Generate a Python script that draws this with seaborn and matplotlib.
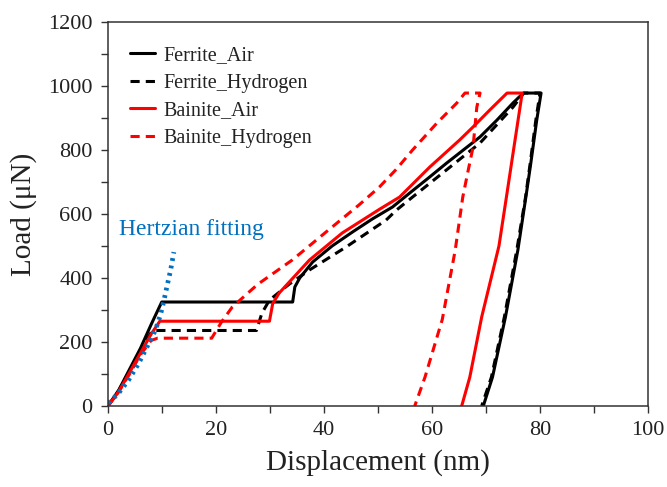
import matplotlib
matplotlib.use("Agg")
import matplotlib.pyplot as plt
import seaborn as sns
import pandas as pd
from matplotlib.ticker import MultipleLocator

# ---- data ----
ferrite_air_x = [0, 2, 4, 6, 8, 9.95, 34.2, 34.6, 35.5, 37.9, 41.5, 45.3, 49, 52.7, 55.9, 59.3, 62.7,
                 65.8, 68.9, 72, 75, 76.9, 80.2, 79.4, 78.3, 77.5, 75.9, 73.6, 71.2, 69.5]
ferrite_air_y = [0, 50, 115, 180, 255, 325, 325, 372, 400, 450, 500, 544, 585, 622, 666, 712, 759,
                 800, 841, 893, 947, 978, 978, 894, 759, 666, 487, 278, 90, 0]

ferrite_h_x = [0, 2, 4, 6, 8.2, 27.5, 28.5, 29.9, 33.5, 37.3, 44.1, 51.5, 53.4, 56.4, 62.7, 68.9, 75,
               77.0, 80.0, 79.2, 78.2, 77.3, 75.7, 73.4, 71.0, 69.2]
ferrite_h_y = [0, 48, 110, 172, 236, 236, 290, 331, 380, 425, 497, 581, 612, 653, 738, 822, 934,
               978, 978, 890, 760, 650, 487, 278, 90, 0]

bainite_air_x = [0, 2, 4, 6, 8, 9.6, 29.9, 30.5, 31.7, 37.3, 43.4, 50.3, 54, 59.6, 65.1, 67.6, 70.7,
                 73.9, 76.7, 76.0, 75.0, 73.9, 72.4, 69.2, 67.0, 65.5]
bainite_air_y = [0, 45, 105, 165, 225, 265, 265, 320, 353, 456, 541, 615, 653, 747, 831, 872, 925,
                 978, 978, 900, 789, 666, 500, 278, 90, 0]

bainite_h_x = [0, 2, 4, 6, 8, 9.2, 19.2, 21, 23.0, 27.7, 34.1, 40.4, 46.6, 50.3, 53.4, 56.4, 60.9,
               64.6, 66.1, 68.9, 68.3, 67.6, 66.6, 65.7, 64.3, 61.9, 58.7, 56.8]
bainite_h_y = [0, 45, 100, 160, 205, 212, 212, 262, 309, 380, 456, 544, 630, 685, 740, 800, 884,
               947, 978, 978, 934, 809, 728, 653, 487, 270, 90, 0]

hertz_x = [0.1, 1.95, 3.8, 5.7, 7.2, 8.8, 9.7, 10.3, 10.9, 11.6, 12.2]
hertz_y = [9, 40, 81, 134, 184, 238, 284, 325, 372, 425, 481]

series_names = ["Ferrite_Air", "Ferrite_Hydrogen", "Bainite_Air", "Bainite_Hydrogen"]

# ---- figure ----
sns.set_theme(style="white")
plt.rcParams["font.family"] = ["Liberation Serif", "DejaVu Serif"]

fig = plt.figure(figsize=(6.67, 4.87), dpi=100)
ax = fig.add_axes([0.1619, 0.1663, 0.9715 - 0.1619, 0.9548 - 0.1663])

data = {
    "Ferrite_Air": (ferrite_air_x, ferrite_air_y),
    "Ferrite_Hydrogen": (ferrite_h_x, ferrite_h_y),
    "Bainite_Air": (bainite_air_x, bainite_air_y),
    "Bainite_Hydrogen": (bainite_h_x, bainite_h_y),
}
styles = {
    "Ferrite_Air": dict(color="black", linestyle="-"),
    "Ferrite_Hydrogen": dict(color="black", linestyle=(0, (3, 2))),
    "Bainite_Air": dict(color="#ff0000", linestyle="-"),
    "Bainite_Hydrogen": dict(color="#ff0000", linestyle=(0, (3, 2))),
}

for name in series_names:
    xs, ys = data[name]
    df = pd.DataFrame({"x": xs, "y": ys})
    sns.lineplot(data=df, x="x", y="y", sort=False, estimator=None, ax=ax,
                 lw=2.2, label=name, **styles[name])

hz = pd.DataFrame({"x": hertz_x, "y": hertz_y})
sns.lineplot(data=hz, x="x", y="y", sort=False, estimator=None, ax=ax,
             color="#0070C0", lw=3.4, linestyle=(0, (0.6, 1.0)), label="_nolegend_")

ax.text(2.0, 534, "Hertzian fitting", color="#0070C0", fontsize=17, va="baseline", ha="left")

ax.set_xlim(0, 100)
ax.set_ylim(0, 1200)
ax.xaxis.set_major_locator(MultipleLocator(20))
ax.xaxis.set_minor_locator(MultipleLocator(10))
ax.yaxis.set_major_locator(MultipleLocator(200))
ax.yaxis.set_minor_locator(MultipleLocator(100))
ax.tick_params(which="both", direction="out", length=5, width=1.0, color="#333333",
               labelsize=16, labelcolor="#222222", pad=6)
ax.tick_params(axis="both", which="both", top=False, right=False, bottom=True, left=True)
for sp in ax.spines.values():
    sp.set_visible(True)
    sp.set_color("#333333")
    sp.set_linewidth(1.1)

ax.set_xlabel("Displacement (nm)", fontsize=21, color="#222222", labelpad=6)
ax.set_ylabel("Load (μN)", fontsize=21, color="#222222", labelpad=8)

leg = ax.legend(loc="upper left", bbox_to_anchor=(0.008, 0.985), frameon=False, fontsize=14.5,
                handlelength=1.2, handletextpad=0.45, labelspacing=0.42)
for t in leg.get_texts():
    t.set_color("#222222")

fig.savefig("out.png", dpi=100)
